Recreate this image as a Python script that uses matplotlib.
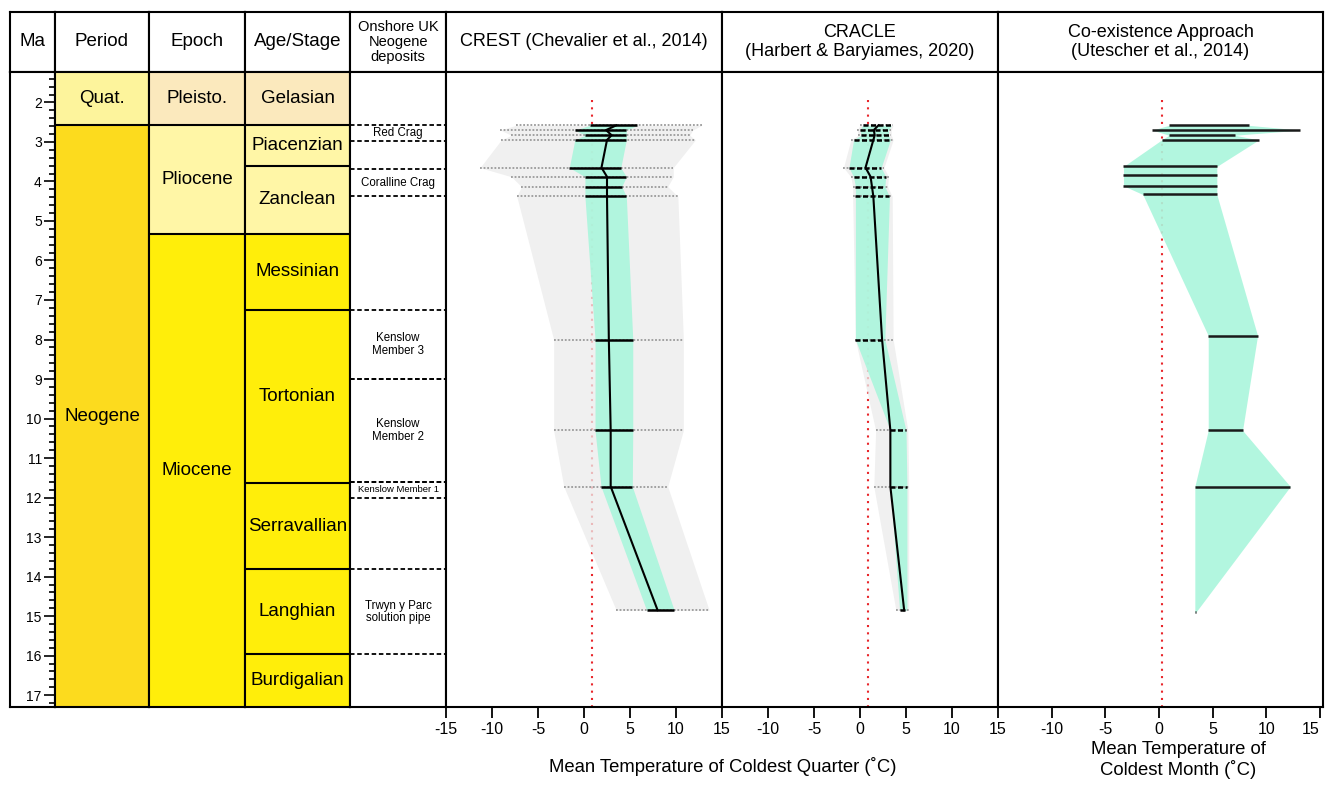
"""
Neogene palaeotemperature estimates against the geological time scale:
CREST / CRACLE (coldest quarter) and Co-existence Approach (coldest month).
"""

import matplotlib
matplotlib.use('Agg')
import matplotlib.pyplot as plt
from matplotlib import font_manager
from matplotlib.ticker import MultipleLocator

# ---------------------------------------------------------------------------
# Data
# ---------------------------------------------------------------------------

# geological time scale (Ma)
period_names = ['Quat.', 'Neogene']
period_top = [0.0, 2.58]
period_base = [2.58, 23.03]

epoch_names = ['Pleisto.', 'Pliocene', 'Miocene']
epoch_top = [0.0117, 2.58, 5.333]
epoch_base = [2.58, 5.333, 23.03]

stage_names = ['Gelasian', 'Piacenzian', 'Zanclean', 'Messinian', 'Tortonian',
               'Serravallian', 'Langhian', 'Burdigalian']
stage_top = [0.0117, 2.58, 3.60, 5.333, 7.246, 11.63, 13.82, 15.97]
stage_base = [2.58, 3.60, 5.333, 7.246, 11.63, 13.82, 15.97, 20.44]

# onshore UK Neogene deposits
deposit_names = ['Red Crag', 'Coralline Crag', 'Kenslow\nMember 3', 'Kenslow\nMember 2',
                 'Kenslow Member 1', 'Trwyn y Parc\nsolution pipe']
deposit_top = [2.58, 3.68, 7.25, 9.00, 11.60, 13.82]
deposit_base = [2.97, 4.38, 9.00, 11.60, 12.00, 15.97]

# CREST - mean temperature of coldest quarter (deg C)
crest_age = [2.58, 2.70, 2.83, 2.95, 3.65, 3.88, 4.13, 4.38, 8.00, 10.30, 11.72, 14.85]
crest_med = [3.5, 2.4, 3.0, 2.5, 1.9, 2.5, 2.5, 2.5, 2.7, 2.9, 2.9, 8.0]
crest_lo = [0.65, -1.0, 0.1, -1.0, -1.6, 0.1, 0.1, 0.1, 1.2, 1.2, 1.85, 6.8]
crest_hi = [5.8, 4.6, 4.6, 4.6, 4.0, 4.6, 4.1, 4.6, 5.3, 5.3, 5.25, 9.8]
crest_olo = [-7.4, -9.1, -7.9, -9.0, -11.3, -7.9, -6.8, -7.3, -3.3, -3.3, -2.2, 3.5]
crest_ohi = [12.8, 11.8, 11.5, 12.1, 9.7, 9.7, 9.1, 10.2, 10.8, 10.8, 9.1, 13.6]

# CRACLE - mean temperature of coldest quarter (deg C)
cracle_age = [2.58, 2.70, 2.83, 2.95, 3.65, 3.88, 4.13, 4.38, 8.00, 10.30, 11.72, 14.85]
cracle_med = [2.0, 1.5, 1.6, 1.45, 0.6, 1.15, 1.3, 1.45, 2.4, 3.3, 3.3, 4.8]
cracle_lo = [0.3, 0.0, 0.1, -0.7, -1.2, -0.7, -0.5, -0.5, -0.5, 3.3, 3.3, 4.3]
cracle_hi = [3.4, 3.1, 3.1, 3.3, 2.3, 2.8, 2.7, 3.2, 2.7, 5.0, 5.1, 5.1]
cracle_olo = [0.0, -0.3, -0.2, -1.0, -1.8, -1.0, -0.8, -0.8, -0.5, 1.7, 1.5, 3.9]
cracle_ohi = [3.6, 3.4, 3.4, 3.6, 2.6, 3.1, 3.0, 3.5, 3.6, 5.2, 5.3, 5.3]

# Co-existence Approach - mean temperature of coldest month (deg C)
coa_age = [2.58, 2.70, 2.83, 2.95, 3.62, 3.83, 4.11, 4.33, 7.90, 10.30, 11.72, 14.90]
coa_lo = [0.93, -0.6, 0.93, 0.25, -3.3, -3.3, -3.3, -1.5, 4.6, 4.6, 3.35, 3.35]
coa_hi = [8.4, 13.2, 7.1, 9.3, 5.4, 5.4, 5.4, 5.4, 9.2, 7.8, 12.25, 3.45]

# modern reference values (red dotted lines)
modern_mtcq = 0.9
modern_mtcm = 0.3

# ---------------------------------------------------------------------------
# Layout / style
# ---------------------------------------------------------------------------

W, H = 1327, 785
COL_EDGES = [10, 55, 149, 245, 350, 446, 722, 998, 1323]
HEAD_TOP, HEAD_BOT, BODY_BOT = 12, 72, 707
Y_TOP, Y_BOT = 1.23, 17.30

names = {f.name for f in font_manager.fontManager.ttflist}
MAIN_FONT = 'Liberation Sans' if 'Liberation Sans' in names else 'DejaVu Sans'
plt.rcParams['font.family'] = [MAIN_FONT, 'DejaVu Sans']
plt.rcParams['axes.unicode_minus'] = False

LW = 1.5
GREEN = '#aaf6dc'
GREY_BAND = '#ebebeb'
RED = '#e8262b'

stage_colors = ['#fbe9bd', '#fff6a6', '#fff6a6', '#ffee0a', '#ffee0a',
                '#ffee0a', '#ffee0a', '#ffee0a']
epoch_colors = ['#fbe9bd', '#fff6a6', '#ffee0a']
period_colors = ['#fdf49c', '#fcdb1e']


def rect(x0, y0, x1, y1):
    return [x0 / W, 1 - y1 / H, (x1 - x0) / W, (y1 - y0) / H]


def frame(ax):
    for s in ax.spines.values():
        s.set_linewidth(LW)
        s.set_color('black')


fig = plt.figure(figsize=(W / 100, H / 100), dpi=100)

# ---------------------------------------------------------------------------
# Header row
# ---------------------------------------------------------------------------
headers = ['Ma', 'Period', 'Epoch', 'Age/Stage', 'Onshore UK\nNeogene\ndeposits',
           'CREST (Chevalier et al., 2014)', 'CRACLE\n(Harbert & Baryiames, 2020)',
           'Co-existence Approach\n(Utescher et al., 2014)']
head_sizes = [13.5, 13.5, 13.5, 13.5, 10.5, 13, 13, 13]

for i, title in enumerate(headers):
    ax = fig.add_axes(rect(COL_EDGES[i], HEAD_TOP, COL_EDGES[i + 1], HEAD_BOT))
    ax.set_xticks([])
    ax.set_yticks([])
    frame(ax)
    ax.text(0.5, 0.5, title, ha='center', va='center', fontsize=head_sizes[i],
            linespacing=1.1 if i == 4 else 1.15, transform=ax.transAxes)

# ---------------------------------------------------------------------------
# Body: time scale columns
# ---------------------------------------------------------------------------
body = []
for i in range(len(COL_EDGES) - 1):
    ax = fig.add_axes(rect(COL_EDGES[i], HEAD_BOT, COL_EDGES[i + 1], BODY_BOT))
    ax.set_ylim(Y_BOT, Y_TOP)
    frame(ax)
    body.append(ax)

ax_ma, ax_per, ax_epo, ax_stg, ax_dep, ax_crest, ax_cracle, ax_coa = body

for ax in [ax_ma, ax_per, ax_epo, ax_stg, ax_dep]:
    ax.set_xlim(0, 1)
    ax.set_xticks([])
    ax.set_yticks([])


def draw_units(ax, labels, tops, bases, colors, size=13.5):
    tr = ax.get_yaxis_transform()
    for lab, top, base, col in zip(labels, tops, bases, colors):
        ax.axhspan(top, base, color=col, lw=0, zorder=0)
        ax.axhline(base, color='black', lw=LW, zorder=2)
        mid = (max(top, Y_TOP) + min(base, Y_BOT)) / 2
        ax.text(0.5, mid, lab, transform=tr, ha='center', va='center', fontsize=size)


draw_units(ax_per, period_names, period_top, period_base, period_colors)
draw_units(ax_epo, epoch_names, epoch_top, epoch_base, epoch_colors)
draw_units(ax_stg, stage_names, stage_top, stage_base, stage_colors)

# Ma scale ticks (drawn on the Period column, pointing into the Ma column)
ax_per.yaxis.set_major_locator(MultipleLocator(1))
ax_per.yaxis.set_minor_locator(MultipleLocator(0.2))
ax_per.tick_params(axis='y', which='major', direction='out', length=8, width=1.2,
                   pad=1.5, labelsize=10)
ax_per.tick_params(axis='y', which='minor', direction='out', length=4, width=1.2)
ax_per.set_ylim(Y_BOT, Y_TOP)

# onshore deposits
tr = ax_dep.get_yaxis_transform()
for lab, top, base in zip(deposit_names, deposit_top, deposit_base):
    for yb in (top, base):
        ax_dep.axhline(yb, color='black', lw=1.3, ls=(0, (2.5, 1.5)))
    size = 6.8 if lab == 'Kenslow Member 1' else 8.3
    ax_dep.text(0.5, (top + base) / 2, lab, transform=tr, ha='center', va='center',
                fontsize=size, linespacing=1.1)

# ---------------------------------------------------------------------------
# Body: proxy panels
# ---------------------------------------------------------------------------


def draw_proxy(ax, age, med, lo, hi, olo, ohi, dashed=False):
    ax.fill_betweenx(age, olo, ohi, color=GREY_BAND, alpha=0.75, lw=0, zorder=1)
    ax.fill_betweenx(age, lo, hi, color=GREEN, alpha=0.9, lw=0, zorder=2)
    ax.hlines(age, olo, ohi, colors='#9a9a9a', linestyles=(0, (1, 1)), lw=1.3, zorder=3)
    ax.hlines(age, lo, hi, colors='black', lw=1.8, zorder=4,
              linestyles=(0, (2, 1)) if dashed else 'solid')
    ax.plot(med, age, color='black', lw=1.5, zorder=5)


for ax, xmax, ref in [(ax_crest, 15, modern_mtcq), (ax_cracle, 15, modern_mtcq),
                      (ax_coa, 15.3, modern_mtcm)]:
    ax.set_xlim(-15, xmax)
    ax.set_yticks([])
    ax.vlines(ref, 1.95, Y_BOT, colors=RED, linestyles=(0, (1, 2.5)), lw=1.5, zorder=0.5)
    ax.tick_params(axis='x', direction='out', length=8, width=1.3, pad=3,
                   labelsize=11.5)

draw_proxy(ax_crest, crest_age, crest_med, crest_lo, crest_hi, crest_olo, crest_ohi)
draw_proxy(ax_cracle, cracle_age, cracle_med, cracle_lo, cracle_hi, cracle_olo,
           cracle_ohi, dashed=True)

ax_coa.fill_betweenx(coa_age, coa_lo, coa_hi, color=GREEN, alpha=0.9, lw=0, zorder=2)
ax_coa.hlines(coa_age, coa_lo, coa_hi, colors='#1a1a1a', lw=1.8, zorder=4)

ax_crest.set_xticks([-15, -10, -5, 0, 5, 10, 15])
ax_cracle.set_xticks([-10, -5, 0, 5, 10, 15])
ax_coa.set_xticks([-10, -5, 0, 5, 10, 15])
ax_coa.get_xticklabels()[-1].set_horizontalalignment('right')
ax_coa.get_xticklabels()[-1].set_x(15.6)

fig.text(723 / W, 1 - 767 / H, 'Mean Temperature of Coldest Quarter (˚C)',
         ha='center', va='center', fontsize=13.3)
fig.text(1178 / W, 1 - 760 / H, 'Mean Temperature of\nColdest Month (˚C)',
         ha='center', va='center', fontsize=13.3, linespacing=1.15)

fig.savefig('out.png', dpi=100)
plt.close(fig)
